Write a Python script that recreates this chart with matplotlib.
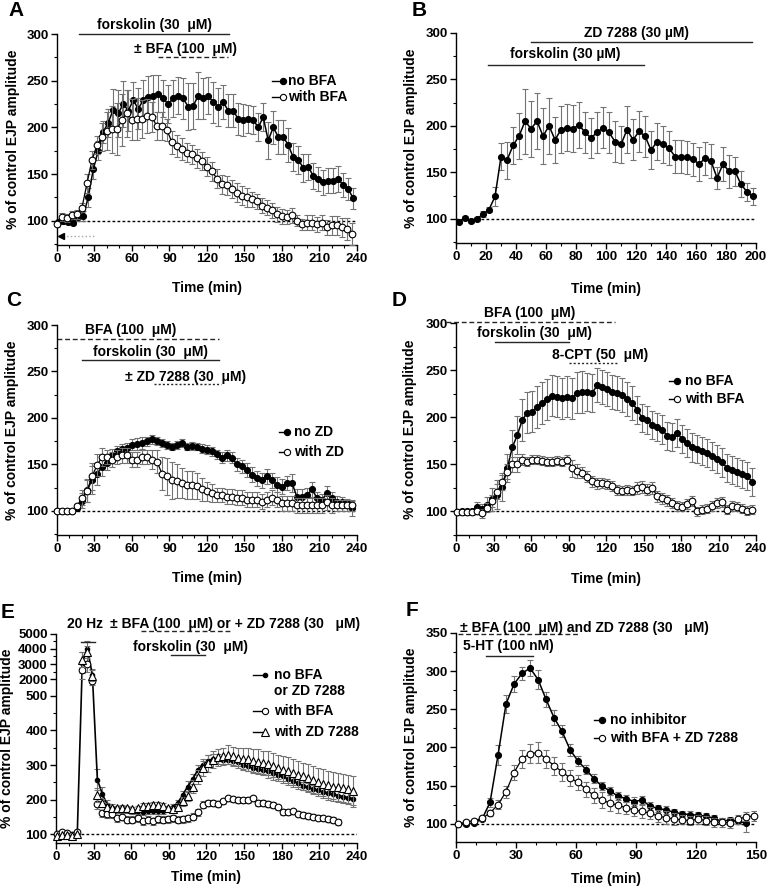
import numpy as np
import matplotlib
matplotlib.use('Agg')
import matplotlib.pyplot as plt
from matplotlib.transforms import blended_transform_factory

plt.rcParams['font.family'] = ['Liberation Sans', 'DejaVu Sans']
plt.rcParams['font.weight'] = 'bold'
plt.rcParams['axes.labelweight'] = 'bold'
plt.rcParams['font.size'] = 10

# ---------------- data ----------------
# A: forskolin +/- BFA
t_a_ctrl = np.arange(1, 238, 4)
a_ctrl = [99, 100, 99, 98, 104, 105, 125, 155, 175, 195, 205, 219,
          215, 225, 218, 229, 220, 229, 233, 234, 236,
          231, 225, 231, 234, 231, 222, 223, 234, 231, 234,
          227, 222, 227, 218, 218, 209, 208, 209, 208, 200,
          211, 186, 200, 190, 190, 181, 168, 165, 157, 158,
          148, 145, 141, 143, 143, 145, 138, 134, 124]
a_ctrl_err = [3, 3, 3, 3, 4, 5, 10, 10, 10, 12, 15, 22,
              25, 25, 22, 20, 22, 22, 22, 22, 20,
              20, 20, 20, 20, 22, 25, 25, 25, 22, 20,
              22, 20, 18, 18, 18, 17, 17, 15, 15, 15,
              15, 20, 18, 18, 18, 18, 15, 15, 15, 14,
              14, 13, 13, 13, 13, 14, 13, 12, 11]
t_a_bfa = np.arange(0, 237, 4)
a_bfa = [96, 104, 103, 106, 107, 114,
         140, 165, 181, 190, 196, 198, 198, 208, 215, 208,
         209, 209, 212, 211, 201, 201, 197, 184, 180, 177,
         173, 171, 167, 164, 158, 153, 145, 139, 138, 134,
         130, 127, 125, 123, 121, 116, 114, 111, 107, 105,
         104, 106, 100, 96, 98, 98, 96, 98, 93, 95,
         95, 93, 91, 86]
a_bfa_err = [3, 4, 4, 4, 5, 5, 10, 10, 10, 15, 20, 25,
             28, 28, 25, 22, 22, 20, 18, 16, 15,
             15, 12, 12, 12, 12, 10, 10, 10, 10, 10,
             10, 10, 10, 10, 10, 10, 10, 10, 8, 8,
             8, 8, 8, 8, 8, 8, 8, 6, 6, 8,
             8, 8, 8, 8, 10, 10, 10, 12, 12]

# B: forskolin then ZD 7288
t_b = np.arange(2, 199, 4)
b_vals = [97, 101, 98, 100, 105, 110, 124, 167, 163, 179,
          189, 205, 197, 205, 189, 200, 185, 196, 198, 197,
          201, 193, 187, 193, 198, 193, 183, 180, 196, 185,
          194, 189, 174, 183, 180, 176, 167, 167, 166, 164,
          159, 165, 162, 144, 159, 151, 151, 137, 129, 124]
b_err = [2, 2, 2, 2, 3, 3, 10, 15, 20, 20,
         25, 35, 30, 30, 30, 30, 25, 25, 25, 25,
         25, 22, 22, 22, 22, 22, 22, 20, 25, 22,
         22, 22, 20, 20, 20, 18, 18, 18, 18, 18,
         18, 18, 18, 12, 18, 18, 16, 14, 10, 9]

# C: BFA present, +/- ZD 7288
t_c = np.arange(0, 237, 4)
c_ctrl = [100, 100, 100, 100, 103, 111, 122, 133, 140, 147,
          152, 160, 164, 167, 168, 171, 172, 173, 175, 177,
          175, 173, 171, 169, 171, 173, 169, 170, 169, 167,
          166, 164, 161, 157, 160, 157, 150, 148, 144, 139,
          135, 133, 137, 133, 128, 126, 130, 130, 115, 115,
          117, 123, 114, 112, 119, 114, 110, 109, 108, 103]
c_ctrl_err = [1, 1, 1, 1, 2, 8, 12, 15, 12, 10,
              8, 7, 6, 5, 5, 6, 6, 6, 5, 5,
              4, 4, 4, 4, 4, 4, 4, 4, 4, 5,
              5, 5, 5, 6, 6, 6, 7, 7, 8, 8,
              8, 8, 8, 8, 8, 8, 8, 10, 8, 8,
              8, 8, 6, 6, 8, 6, 6, 6, 5, 8]
c_zd = [100, 100, 100, 100, 105, 114, 121, 137, 149, 158,
        158, 155, 158, 160, 160, 155, 155, 158, 158, 155,
        153, 140, 137, 133, 132, 130, 128, 128, 127, 123,
        121, 119, 117, 117, 115, 115, 114, 114, 112, 112,
        112, 110, 112, 114, 112, 108, 108, 108, 106, 106,
        106, 106, 106, 106, 109, 106, 106, 106, 106, 106]
c_zd_err = [1, 1, 1, 1, 2, 8, 12, 15, 12, 10,
            8, 8, 8, 8, 8, 8, 8, 8, 8, 10,
            12, 18, 20, 20, 18, 16, 15, 15, 14, 12,
            10, 10, 8, 8, 8, 8, 8, 8, 8, 8,
            8, 8, 8, 8, 8, 8, 8, 8, 8, 8,
            8, 8, 8, 8, 8, 8, 6, 6, 6, 6]

# D: 8-CPT, +/- BFA
t_d = np.arange(1, 238, 4)
d_ctrl = [99, 100, 100, 100, 105, 103, 107, 113, 118, 126,
          146, 168, 181, 197, 205, 206, 211, 215, 219, 223,
          222, 220, 222, 220, 226, 227, 227, 226, 234, 232,
          230, 227, 226, 224, 219, 215, 208, 199, 197, 192,
          190, 187, 180, 179, 183, 177, 173, 168, 166, 164,
          162, 159, 156, 152, 146, 144, 142, 140, 138, 131]
d_ctrl_err = [3, 3, 3, 3, 5, 5, 8, 12, 15, 15,
              15, 18, 20, 22, 22, 22, 22, 22, 22, 22,
              22, 22, 22, 22, 22, 22, 20, 20, 18, 18,
              18, 18, 18, 18, 18, 18, 15, 15, 15, 15,
              15, 15, 15, 15, 15, 15, 15, 15, 15, 15,
              15, 15, 15, 15, 15, 15, 15, 15, 15, 15]
d_bfa = [99, 99, 99, 99, 100, 98, 104, 111, 121, 131,
         142, 150, 150, 155, 153, 155, 155, 154, 153, 153,
         154, 153, 155, 146, 143, 141, 137, 132, 130, 130,
         129, 127, 123, 122, 123, 122, 125, 126, 123, 125,
         116, 114, 112, 109, 106, 105, 108, 111, 100, 102,
         103, 106, 109, 110, 102, 106, 105, 103, 101, 102]
d_bfa_err = [3, 3, 3, 3, 3, 5, 5, 6, 8, 8,
             8, 8, 8, 6, 5, 5, 5, 5, 5, 5,
             5, 5, 5, 9, 7, 6, 6, 6, 6, 5,
             5, 5, 5, 5, 5, 5, 6, 6, 6, 6,
             6, 6, 6, 5, 5, 5, 5, 5, 5, 5,
             5, 5, 5, 5, 5, 5, 5, 5, 5, 5]

# E: 20 Hz train then forskolin
t_e = np.arange(1, 238, 4)
e_ctrl = [98, 100, 100, 98, 105, 3100, 4000, 2300,
          258, 216, 185, 177, 172, 173, 170, 166, 166, 163, 166, 166,
          166, 166, 172, 180, 190, 214, 238, 259, 286, 301,
          313, 317, 317, 315, 315, 312, 308, 301, 296, 291,
          288, 285, 282, 277, 272, 267, 259, 253, 248, 240,
          236, 230, 227, 222, 219, 216, 212, 209, 206, 203]
e_ctrl_err = [3, 3, 3, 3, 3, 700, 500, 400,
              30, 20, 15, 10, 10, 8, 8, 8, 8, 8, 8, 8,
              8, 8, 8, 8, 10, 12, 15, 15, 15, 15,
              15, 15, 15, 12, 12, 12, 12, 12, 12, 12,
              12, 12, 12, 12, 12, 12, 12, 12, 12, 12,
              12, 12, 12, 12, 15, 15, 15, 15, 15, 18]
t_e_bfa = np.arange(1, 226, 4)
e_bfa = [100, 106, 104, 98, 108, 2600, 3000, 1800,
         188, 161, 158, 158, 146, 151, 142, 142, 146, 137, 142, 137,
         143, 142, 143, 146, 142, 143, 146, 151, 163, 185,
         190, 190, 188, 195, 204, 201, 199, 198, 199, 204,
         190, 190, 188, 185, 178, 165, 163, 166, 160, 156,
         153, 151, 148, 146, 144, 141, 135]
e_bfa_err = [3, 3, 3, 3, 3, 600, 500, 300,
             15, 10, 10, 10, 10, 10, 10, 10, 10, 10, 10, 10,
             10, 10, 10, 10, 10, 10, 10, 10, 10, 10,
             8, 8, 8, 8, 8, 8, 8, 8, 8, 8,
             8, 8, 8, 8, 8, 8, 8, 8, 8, 8,
             8, 8, 8, 8, 8, 8, 8]
e_zd = [95, 97, 99, 96, 100, 3300, 3800, 2200,
        214, 190, 180, 175, 175, 177, 175, 172, 175, 183, 183, 185,
        185, 182, 175, 172, 180, 195, 210, 238, 265, 290,
        305, 315, 322, 325, 330, 325, 320, 318, 316, 312,
        310, 306, 302, 296, 292, 287, 282, 277, 272, 267,
        262, 256, 250, 246, 242, 238, 236, 233, 230, 224]
e_zd_err = [3, 3, 3, 3, 3, 500, 400, 400,
            20, 12, 10, 8, 8, 8, 8, 8, 8, 8, 8, 8,
            8, 8, 8, 8, 10, 12, 15, 18, 20, 22,
            25, 25, 25, 25, 28, 28, 30, 32, 32, 35,
            35, 35, 38, 38, 38, 40, 40, 40, 40, 40,
            40, 40, 40, 42, 42, 42, 42, 42, 42, 45]

# F: 5-HT +/- BFA and ZD 7288
t_f_ctrl = np.arange(1, 146, 4)
f_ctrl = [100, 99, 101, 106, 128, 190, 257, 283, 297, 304,
          289, 263, 239, 221, 197, 182, 171, 159, 149, 143,
          136, 133, 129, 131, 123, 120, 118, 115, 113, 112,
          111, 110, 107, 103, 105, 103, 101]
f_ctrl_err = [2, 2, 2, 3, 6, 13, 12, 10, 8, 10,
              12, 10, 10, 8, 8, 7, 6, 6, 5, 5,
              5, 5, 6, 5, 5, 5, 5, 4, 4, 4,
              4, 4, 4, 4, 4, 4, 12]
t_f_inh = np.arange(1, 150, 4)
f_inh = [100, 102, 104, 107, 114, 125, 142, 167, 185, 192,
         193, 185, 176, 168, 160, 154, 145, 137, 131, 127,
         124, 121, 118, 116, 114, 110, 108, 106, 105, 104,
         106, 104, 102, 102, 101, 106, 109, 110]
f_inh_err = [2, 2, 2, 3, 4, 6, 8, 10, 12, 12,
             14, 12, 12, 12, 10, 10, 10, 10, 10, 10,
             10, 8, 8, 8, 8, 8, 8, 8, 6, 6,
             6, 6, 6, 6, 6, 6, 6, 6]

YLABEL = '% of control EJP amplitude'
MU = '\u03bc'
DASH = (0, (3.5, 2))
DOT = (0, (1.5, 1.5))


def setup(ax, xmax, xstep, ylim, yticks, yminor, xlab_y, ylab_x=-0.126):
    for s in ['top', 'right']:
        ax.spines[s].set_visible(False)
    for s in ['left', 'bottom']:
        ax.spines[s].set_linewidth(1.0)
    ax.set_xlim(0, xmax)
    ax.set_xticks(np.arange(0, xmax + 1, xstep))
    ax.set_xticks(np.arange(0, xmax + 1, 10), minor=True)
    ax.set_ylim(*ylim)
    ax.set_yticks(yticks)
    ax.set_yticks(yminor, minor=True)
    ax.tick_params(which='major', direction='out', length=4, width=1,
                   labelsize=9.5, pad=2)
    ax.tick_params(which='minor', direction='out', length=2, width=0.8)
    ax.set_xlabel('Time (min)', fontsize=10)
    ax.xaxis.set_label_coords(0.5, xlab_y)
    ax.set_ylabel(YLABEL, fontsize=10)
    ax.yaxis.set_label_coords(ylab_x, 0.5)
    ax.axhline(100, color='k', ls=(0, (2, 1.6)), lw=1, zorder=1)


def series(ax, t, y, err, mfc, marker='o', ms=4.3, lw=1.1, z=3):
    ax.errorbar(t, y, yerr=err, fmt='none', ecolor='0.45', elinewidth=0.8,
                capsize=2.5, capthick=0.8, zorder=z - 1)
    ax.plot(t, y, color='k', lw=lw, marker=marker, ms=ms, mfc=mfc,
            mec='k', mew=0.8, clip_on=False, zorder=z)


def bar(ax, x0, x1, y, ls='-', trans=None):
    ax.plot([x0, x1], [y, y], color='0.15', lw=1, ls=ls, clip_on=False,
            transform=trans if trans is not None else ax.transData)


def label(ax, x, y, s, trans=None, ha='center'):
    ax.text(x, y, s, ha=ha, va='center', fontsize=10,
            transform=trans if trans is not None else ax.transData)


def leg(ax, x0, xm, xt, y, s, mfc, marker='o', ms=4.5, trans=None):
    tr = trans if trans is not None else ax.transData
    ax.plot([x0, xm], [y, y], color='k', lw=1, clip_on=False, transform=tr)
    ax.plot([xm], [y], marker=marker, ms=ms, mfc=mfc, mec='k', mew=0.8,
            clip_on=False, transform=tr)
    ax.text(xt, y, s, ha='left', va='center', fontsize=10, transform=tr)


fig = plt.figure(figsize=(7.68, 8.88), dpi=100)

yt = [100, 150, 200, 250, 300]
ym = [75, 125, 175, 225, 275]

# ---------- A ----------
ax = fig.add_axes([0.0742, 0.7241, 0.3906, 0.2376])
setup(ax, 240, 30, (74, 300), yt, ym, -0.169, -0.123)
series(ax, t_a_ctrl, a_ctrl, a_ctrl_err, 'k')
series(ax, t_a_bfa, a_bfa, a_bfa_err, 'white', ms=4.8, lw=0.9, z=4)
bar(ax, 18, 138, 300)
label(ax, 78, 310, 'forskolin (30  ' + MU + 'M)')
label(ax, 103, 284, '\u00b1 BFA (100  ' + MU + 'M)')
bar(ax, 81, 137, 275, DASH)
ax.plot([5, 30], [84, 84], color='0.65', ls=':', lw=1)
ax.plot([3], [84], marker='<', color='k', ms=4, clip_on=False)
leg(ax, 172, 181, 185, 250, 'no BFA', 'k')
leg(ax, 172, 181, 185, 233, 'with BFA', 'white')

# ---------- B ----------
ax = fig.add_axes([0.5938, 0.7264, 0.3906, 0.2365])
setup(ax, 200, 20, (74, 300), yt, ym, -0.184)
series(ax, t_b, b_vals, b_err, 'k')
bar(ax, 50, 197, 290)
label(ax, 120, 300, 'ZD 7288 (30 \u00b5M)')
bar(ax, 21, 125, 266)
label(ax, 73, 277, 'forskolin (30 \u00b5M)')

# ---------- C ----------
ax = fig.add_axes([0.0742, 0.3975, 0.3906, 0.2365])
setup(ax, 240, 30, (74, 300), yt, ym, -0.17)
series(ax, t_c, c_ctrl, c_ctrl_err, 'k')
series(ax, t_c, c_zd, c_zd_err, 'white', ms=4.8, lw=0.9, z=4)
label(ax, 59, 295, 'BFA (100  ' + MU + 'M)')
bar(ax, 0, 130, 285, DASH)
label(ax, 75, 271, 'forskolin (30  ' + MU + 'M)')
bar(ax, 20, 130, 262)
label(ax, 103, 244, '\u00b1 ZD 7288 (30  ' + MU + 'M)')
bar(ax, 78, 131, 236, DOT)
leg(ax, 178, 184, 190, 185, 'no ZD', 'k')
leg(ax, 178, 184, 190, 163, 'with ZD', 'white')

# ---------- D ----------
ax = fig.add_axes([0.5938, 0.3975, 0.3906, 0.2387])
setup(ax, 240, 30, (75, 300), yt, ym, -0.173, -0.13)
series(ax, t_d, d_ctrl, d_ctrl_err, 'k')
series(ax, t_d, d_bfa, d_bfa_err, 'white', ms=4.8, lw=0.9, z=4)
label(ax, 59, 311, 'BFA (100  ' + MU + 'M)')
bar(ax, -8, 127, 301, DASH)
label(ax, 63, 289, 'forskolin (30  ' + MU + 'M)')
bar(ax, 31, 90, 280)
label(ax, 115, 266, '8-CPT (50  ' + MU + 'M)')
bar(ax, 90, 130, 258, DOT)
leg(ax, 170, 177, 183, 239, 'no BFA', 'k')
leg(ax, 170, 177, 183, 219, 'with BFA', 'white')

# ---------- E (broken y axis) ----------
def fwd(y):
    y = np.asarray(y, dtype=float)
    return np.where(y <= 500, y,
                    np.where(y <= 2000, 500 + (y - 500) * 48.2 / 1500,
                             548.2 + (y - 2000) * 0.0434))


def inv(p):
    p = np.asarray(p, dtype=float)
    return np.where(p <= 500, p,
                    np.where(p <= 548.2, 500 + (p - 500) * 1500 / 48.2,
                             2000 + (p - 548.2) / 0.0434))


ax = fig.add_axes([0.0729, 0.0507, 0.3919, 0.2354])
ax.set_yscale('function', functions=(fwd, inv))
setup(ax, 240, 30, (75, 5000),
      [100, 200, 300, 400, 500, 2000, 3000, 4000, 5000],
      [150, 250, 350, 450, 2500, 3500, 4500], -0.129, -0.14)
ax.yaxis.set_major_formatter(matplotlib.ticker.FormatStrFormatter('%d'))
ax.yaxis.set_minor_formatter(matplotlib.ticker.NullFormatter())
series(ax, t_e, e_ctrl, e_ctrl_err, 'k', ms=3.2, lw=1.2)
series(ax, t_e_bfa, e_bfa, e_bfa_err, 'white', ms=4.8, lw=0.0, z=4)
series(ax, t_e, e_zd, e_zd_err, 'white', marker='^', ms=5.2, lw=0.0, z=5)
tb = blended_transform_factory(ax.transData, ax.transAxes)
label(ax, 23, 1.048, '20 Hz', trans=tb)
bar(ax, 20, 31, 0.961, trans=tb)
label(ax, 43, 1.048, '\u00b1 BFA (100  ' + MU + 'M) or + ZD 7288 (30   ' + MU + 'M)',
      trans=tb, ha='left')
bar(ax, 68, 139, 1.013, DASH, trans=tb)
label(ax, 107, 0.936, 'forskolin (30  ' + MU + 'M)', trans=tb)
bar(ax, 92, 119, 0.897, trans=tb)
ta = ax.transAxes
leg(ax, 0.656, 0.694, 0.724, 0.802, 'no BFA', 'k', ms=3.2, trans=ta)
ax.text(0.724, 0.728, 'or ZD 7288', ha='left', va='center', fontsize=10,
        transform=ta)
leg(ax, 0.656, 0.694, 0.724, 0.629, 'with BFA', 'white', trans=ta)
leg(ax, 0.656, 0.694, 0.724, 0.533, 'with ZD 7288', 'white', marker='^',
    ms=5.2, trans=ta)

# ---------- F ----------
ax = fig.add_axes([0.5938, 0.0518, 0.3906, 0.2354])
setup(ax, 150, 30, (76, 350), [100, 150, 200, 250, 300, 350],
      [125, 175, 225, 275, 325], -0.144)
series(ax, t_f_ctrl, f_ctrl, f_ctrl_err, 'k')
series(ax, t_f_inh, f_inh, f_inh_err, 'white', ms=4.8, lw=0.9, z=4)
label(ax, 2, 357, '\u00b1 BFA (100  ' + MU + 'M) and ZD 7288 (30   ' + MU + 'M)',
      ha='left')
bar(ax, 1, 62, 348, DASH)
label(ax, 26, 333, '5-HT (100 nM)')
bar(ax, 15, 38.5, 320)
leg(ax, 69, 73, 77, 236, 'no inhibitor', 'k')
leg(ax, 69, 73, 77, 212, 'with BFA + ZD 7288', 'white')

# panel letters
for s, x, y in [('A', 16, 10), ('B', 419, 10), ('C', 14, 300),
                ('D', 399, 300), ('E', 8, 612), ('F', 412, 610)]:
    fig.text(x / 768, 1 - y / 888, s, fontsize=15, fontweight='bold',
             ha='center', va='center')

fig.savefig('out.png', dpi=100)
